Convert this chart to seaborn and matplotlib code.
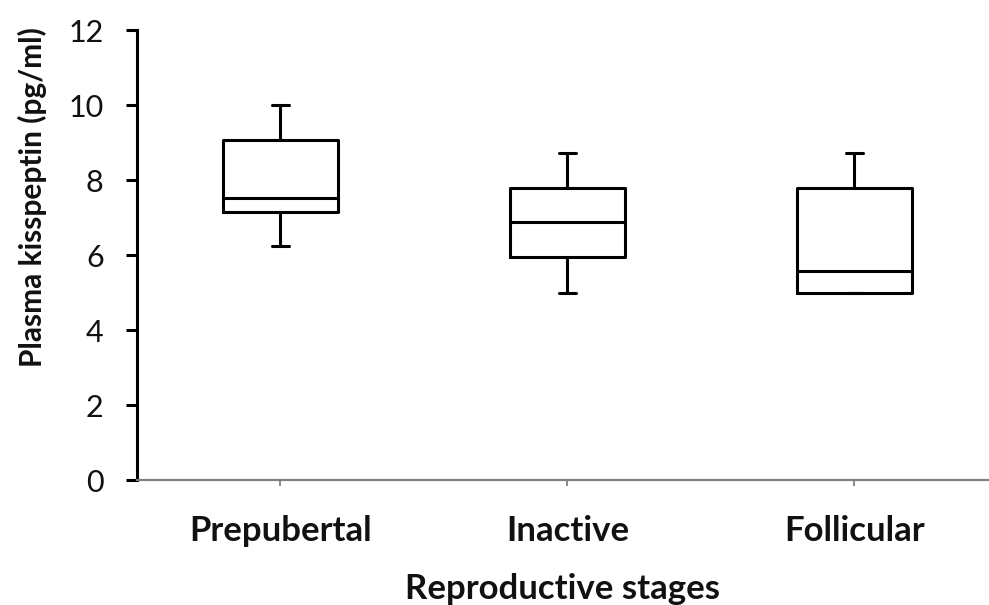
import matplotlib
matplotlib.use("Agg")
import matplotlib.pyplot as plt
import seaborn as sns
import pandas as pd
import numpy as np

# Data (five-number summaries per stage)
stages = ["Prepubertal", "Inactive", "Follicular"]
whisker_low = [6.25, 5.0, 5.0]
q1 = [7.15, 5.95, 5.0]
median = [7.52, 6.87, 5.58]
q3 = [9.07, 7.80, 7.80]
whisker_high = [10.0, 8.72, 8.72]
y_ticks = [0, 2, 4, 6, 8, 10, 12]
x_label = "Reproductive stages"
y_label = "Plasma kisspeptin (pg/ml)"

rows = []
for i, s in enumerate(stages):
    for v in (whisker_low[i], q1[i], median[i], q3[i], whisker_high[i]):
        rows.append({"stage": s, "value": v})
df = pd.DataFrame(rows)

sns.set_style("white")
plt.rcParams["font.family"] = ["Lato", "DejaVu Sans"]

fig = plt.figure(figsize=(9.89, 6.05), dpi=100)
ax = fig.add_axes([0.1385, 0.2066, 0.8615, 0.7438])

sns.boxplot(data=df, x="stage", y="value", order=stages, width=0.4,
            fill=False, color="black", linecolor="black", linewidth=2.2,
            whis=np.inf, showfliers=False, ax=ax)

# narrow caps
for cont in ax.containers:
    if hasattr(cont, "caps"):
        for cap in cont.caps:
            xd = cap.get_xdata()
            c = (xd[0] + xd[1]) / 2
            cap.set_xdata([c - 0.03, c + 0.03])

ax.set_ylim(0, 12)
ax.set_xlim(-0.5, 2.469)
ax.set_yticks(y_ticks)
ax.set_yticklabels([str(t) for t in y_ticks], fontsize=22)
ax.set_xticks(range(len(stages)))
ax.set_xticklabels(stages, fontsize=25, fontweight="bold")

for sp in ["top", "right"]:
    ax.spines[sp].set_visible(False)
ax.spines["left"].set_color("black")
ax.spines["left"].set_linewidth(2.2)
ax.spines["bottom"].set_color("#808080")
ax.spines["bottom"].set_linewidth(1.6)

ax.tick_params(axis="y", direction="out", length=8, width=2.2, color="black",
               pad=16, left=True, labelcolor="#111111")
ax.tick_params(axis="x", direction="out", length=4, width=1.3, color="#808080",
               pad=21, bottom=True, labelcolor="#111111")

ax.set_xlabel(x_label, fontsize=25, fontweight="bold", labelpad=19, color="#111111")
ax.set_ylabel(y_label, fontsize=21.5, fontweight="bold", color="#111111")
ax.yaxis.set_label_coords(-0.106, 0.629)

fig.savefig("out.png", dpi=100)
